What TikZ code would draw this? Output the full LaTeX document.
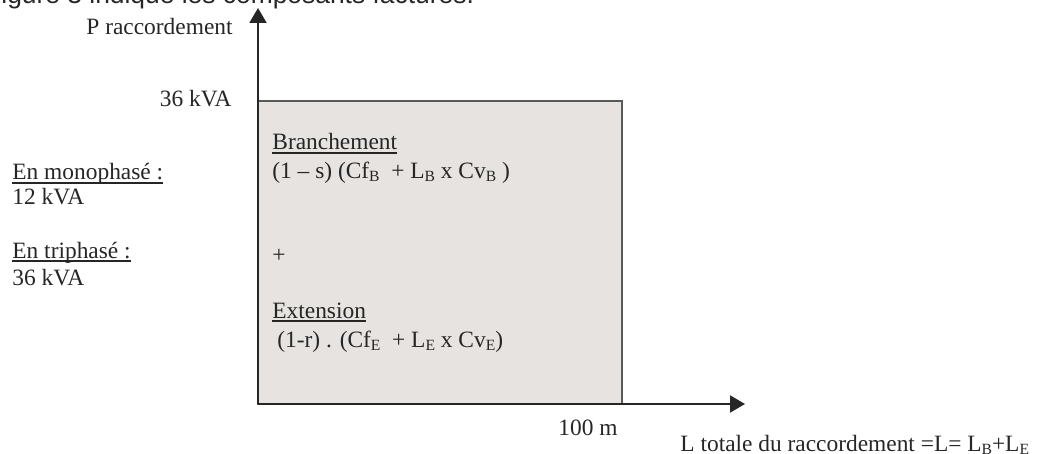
\documentclass[tikz,border=0pt]{standalone}
\usepackage{fontspec}
\setmainfont{Liberation Serif}
\newfontfamily\docsans{Liberation Sans}
\usepackage{tikz}
\usetikzlibrary{arrows.meta,positioning}
\usepackage{xcolor}
\definecolor{boxfill}{HTML}{E6E3E0}
\definecolor{boxline}{HTML}{5A5A5A}
\definecolor{ink}{HTML}{262626}
\newcommand{\idx}[1]{\raisebox{-0.28ex}{\fontsize{7.8}{8}\selectfont #1}}
\newcommand{\undl}[1]{\setbox0\hbox{#1}\rlap{\rule[-0.16em]{\wd0}{0.07em}}\box0}

\begin{document}
\begin{tikzpicture}[
      x=0.5pt, y=-0.5pt,
      lab/.style={inner sep=0pt, text=ink, font=\fontsize{11.7}{14}\selectfont},
      axis/.style={-{Triangle[length=7.5pt, width=8.5pt]}, line width=1pt, draw=ink},
      zone/.style={fill=boxfill, draw=boxline, line width=0.8pt},
    ]
    \useasboundingbox (0,0) rectangle (1042,454);
    \clip (0,0) rectangle (1042,454);

    % cut line of the text above
    \node[inner sep=0pt, anchor=base west, text=ink, font=\docsans\fontsize{13.2}{15}\selectfont]
      (caption) at (1,4) {igure 3 indique les composants facturés.};

    % axes and zone
    \coordinate (origin) at (258,404);
    \coordinate (ytip) at (258,8);
    \coordinate (xtip) at (745,404);
    \coordinate (corner) at (622,101);
    \draw[zone] (origin) rectangle (corner);
    \draw[axis] (origin) -- (ytip);
    \draw[axis] (origin) -- (xtip);

    % axis labels
    \node[lab, anchor=base east] (ylabel) at (233,35) {P raccordement};
    \node[lab, anchor=base east] (ymax) at (232,107) {36 kVA};
    \node[lab, anchor=base east] (xmax) at (618,435) {100 m};
    \node[lab, anchor=base west] (xlabel) at (680,451)
      {L totale du raccordement =L= L\idx{B}+L\idx{E}};

    % power by type
    \node[lab, anchor=base west] (mono) at (12,180) {\undl{En monophasé :}};
    \node[lab, anchor=base west] (monoval) at (12,205) {12 kVA};
    \node[lab, anchor=base west] (tri) at (12,258) {\undl{En triphasé :}};
    \node[lab, anchor=base west] (trival) at (12,285) {36 kVA};

    % cost terms
    \node[lab, anchor=base west] (branch) at (272,150) {\undl{Branchement}};
    \node[lab, anchor=base west] (branchcost) at (272,178)
      {(1 -- s) (Cf\idx{B}\ \ + L\idx{B} x Cv\idx{B}~)};
    \node[lab, anchor=base west] (plus) at (272,262) {+};
    \node[lab, anchor=base west] (ext) at (272,318) {\undl{Extension}};
    \node[lab, anchor=base west] (extcost) at (277,347)
      {(1-r) . (Cf\idx{E}\ \ + L\idx{E} x Cv\idx{E})};
  \end{tikzpicture}
\end{document}
